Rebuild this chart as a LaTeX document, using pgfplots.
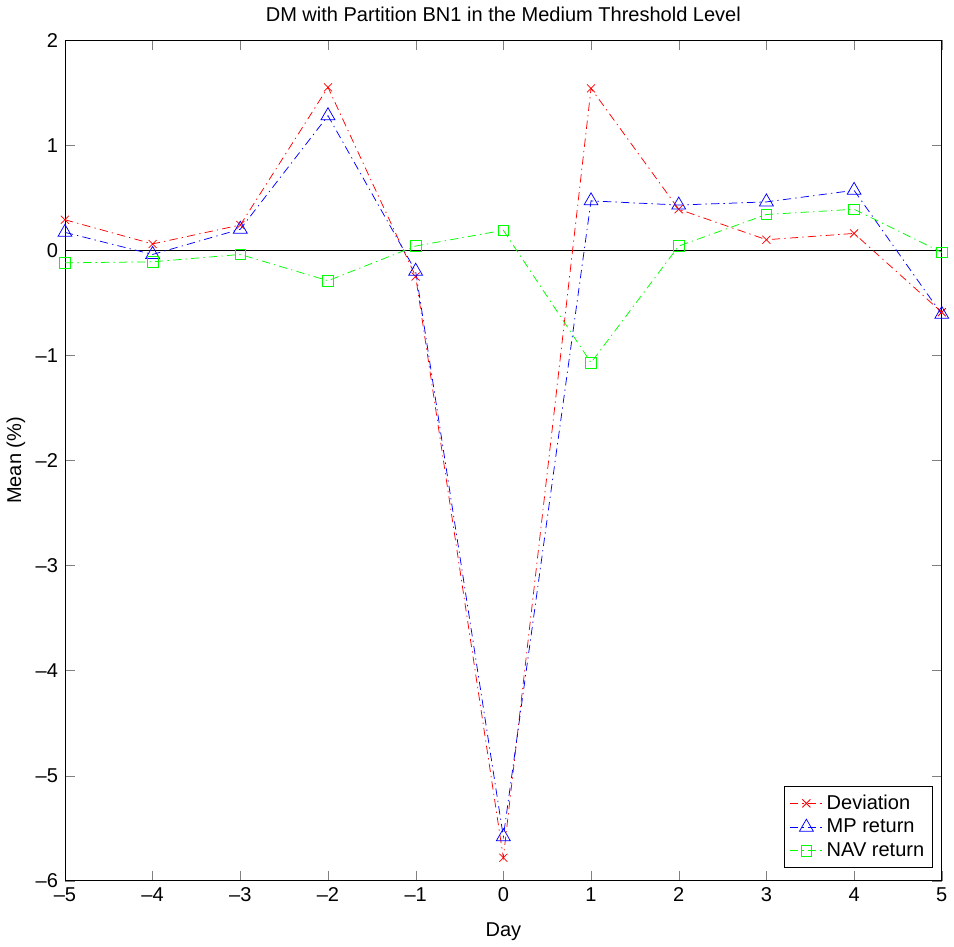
\documentclass[border=0pt]{standalone}
\usepackage{fontspec}
\setmainfont{Liberation Sans}
\usepackage{pgfplots}
\pgfplotsset{compat=1.18}
\begin{document}
\fontsize{12}{14}\selectfont
\begin{tikzpicture}
\begin{axis}[
  scale only axis,
  width=525.6pt, height=504pt,
  xmin=-5, xmax=5, ymin=-6, ymax=2,
  xtick={-5,-4,...,5}, ytick={-6,-5,...,2},
  xticklabels={\textendash5,\textendash4,\textendash3,\textendash2,\textendash1,0,1,2,3,4,5},
  yticklabels={\textendash6,\textendash5,\textendash4,\textendash3,\textendash2,\textendash1,0,1,2},
  tick align=inside,
  major tick length=6pt,
  tick label style={font=\fontsize{12}{14}\selectfont},
  title={DM with Partition BN1 in the Medium Threshold Level},
  title style={font=\fontsize{12}{14}\selectfont, yshift=1pt},
  xlabel={Day}, ylabel={Mean (\%)},
  label style={font=\fontsize{12}{14}\selectfont},
  xlabel style={yshift=-4pt},
  ylabel style={yshift=-2pt},
  legend style={at={(0.99,0.0155)}, anchor=south east, draw=black, line width=0.5pt,
    font=\fontsize{12}{14}\selectfont, inner sep=3pt, row sep=0pt},
  legend cell align=left,
  legend image code/.code={
    \draw[mark repeat=2,mark phase=2] plot coordinates {(0cm,0cm) (0.35cm,0cm) (0.7cm,0cm)};},
  every axis plot/.append style={line width=0.45pt, dash pattern=on 5pt off 2.5pt on 0.8pt off 2.5pt},
]
\addplot[black, solid, forget plot] coordinates {(-5,0) (5,0)};
\addplot[red, mark=x, mark size=3.4pt, mark options={solid}] coordinates {
(-5,0.29) (-4,0.06) (-3,0.24) (-2,1.55) (-1,-0.25) (0,-5.78) (1,1.54) (2,0.39) (3,0.10) (4,0.16) (5,-0.59)};
\addlegendentry{Deviation}
\addplot[blue, mark=triangle, mark size=4.8pt, mark options={solid}] coordinates {
(-5,0.17) (-4,-0.04) (-3,0.20) (-2,1.28) (-1,-0.20) (0,-5.58) (1,0.47) (2,0.43) (3,0.46) (4,0.57) (5,-0.61)};
\addlegendentry{MP return}
\addplot[green, mark=square, mark size=3.2pt, mark options={solid}] coordinates {
(-5,-0.12) (-4,-0.11) (-3,-0.04) (-2,-0.29) (-1,0.04) (0,0.19) (1,-1.07) (2,0.04) (3,0.34) (4,0.39) (5,-0.02)};
\addlegendentry{NAV return}
\end{axis}
\end{tikzpicture}
\end{document}
